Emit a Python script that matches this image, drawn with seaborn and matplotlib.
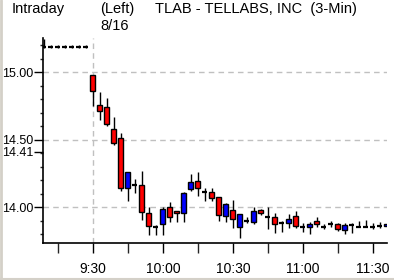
import matplotlib
matplotlib.use("Agg")
import matplotlib.pyplot as plt
import seaborn as sns
import numpy as np
import pandas as pd
from matplotlib.ticker import FixedLocator, MultipleLocator
from matplotlib.lines import Line2D

# ---------------- data ----------------
times = ["9:30", "9:33", "9:36", "9:39", "9:42", "9:45", "9:48", "9:51", "9:54", "9:57",
         "10:00", "10:03", "10:06", "10:09", "10:12", "10:15", "10:18", "10:21", "10:24", "10:27",
         "10:30", "10:33", "10:36", "10:39", "10:42", "10:45", "10:48", "10:51", "10:54", "10:57",
         "11:00", "11:03", "11:06", "11:09", "11:12", "11:15", "11:18", "11:21", "11:24", "11:27",
         "11:30", "11:33", "11:36"]
opens = [14.980, 14.758, 14.745, 14.578, 14.511, 14.145, 14.165, 14.165, 13.956, 13.852,
         13.874, 14.000, 13.973, 13.956, 14.133, 14.193, 14.111, 14.111, 14.074, 13.934,
         13.980, 13.852, 13.895, 13.889, 13.980, 13.928, 13.928, 13.881, 13.881, 13.934,
         13.852, 13.852, 13.896, 13.852, 13.877, 13.877, 13.832, 13.869, 13.857, 13.857,
         13.857, 13.864, 13.861]
highs = [14.980, 14.852, 14.812, 14.667, 14.553, 14.259, 14.210, 14.269, 14.000, 13.869,
         14.000, 14.037, 13.973, 14.116, 14.247, 14.259, 14.141, 14.141, 14.074, 14.034,
         14.054, 13.950, 13.928, 14.000, 13.985, 14.000, 13.956, 13.899, 13.950, 13.975,
         13.881, 13.889, 13.926, 13.877, 13.901, 13.881, 13.881, 13.881, 13.901, 13.907,
         13.881, 13.890, 13.877]
lows = [14.753, 14.647, 14.600, 14.460, 14.121, 14.047, 14.106, 13.906, 13.795, 13.795,
        13.795, 13.893, 13.893, 13.893, 14.123, 14.086, 14.049, 14.049, 13.899, 13.893,
        13.844, 13.770, 13.881, 13.874, 13.943, 13.839, 13.807, 13.819, 13.844, 13.844,
        13.819, 13.802, 13.852, 13.839, 13.852, 13.827, 13.802, 13.807, 13.852, 13.852,
        13.837, 13.844, 13.861]
closes = [14.862, 14.714, 14.615, 14.474, 14.141, 14.259, 14.165, 13.967, 13.862, 13.852,
          13.985, 13.926, 13.956, 14.104, 14.185, 14.141, 14.111, 14.067, 13.943, 14.024,
          13.911, 13.950, 13.895, 13.975, 13.956, 13.928, 13.874, 13.881, 13.915, 13.861,
          13.852, 13.874, 13.874, 13.852, 13.877, 13.839, 13.869, 13.869, 13.857, 13.857,
          13.857, 13.864, 13.877]

# previous session's last bars (shown before the open)
prev_opens = [15.190, 15.190, 15.190, 15.190, 15.190, 15.190, 15.190]
prev_highs = [15.245, 15.200, 15.200, 15.200, 15.200, 15.200, 15.200]
prev_lows = [15.180, 15.180, 15.180, 15.180, 15.180, 15.180, 15.180]
prev_closes = [15.190, 15.190, 15.190, 15.190, 15.190, 15.190, 15.190]

ytick_vals = [14.00, 14.41, 14.50, 15.00]
ytick_labels = ["14.00", "14.41", "14.50", "15.00"]
grid_prices = [14.00, 14.50, 15.00]
xtick_labels = ["9:30", "10:00", "10:30", "11:00", "11:30"]

title_left = "Intraday"
title_mid = "(Left)"
date_text = "8/16"
title_right = "TLAB - TELLABS, INC  (3-Min)"

# ---------------- helpers ----------------
def to_bar(t):
    h, m = t.split(":")
    return (int(h) * 60 + int(m) - (9 * 60 + 30)) / 3.0

df = pd.DataFrame({"time": times, "open": opens, "high": highs, "low": lows, "close": closes})
df["x"] = [to_bar(t) for t in df["time"]]
n_prev = len(prev_opens)
pdf = pd.DataFrame({"open": prev_opens, "high": prev_highs, "low": prev_lows, "close": prev_closes})
pdf["x"] = np.arange(-n_prev, 0, dtype=float)
all_df = pd.concat([pdf, df[["open", "high", "low", "close", "x"]]], ignore_index=True)

# ---------------- figure ----------------
sns.set_theme(style="ticks")
plt.rcParams["font.family"] = ["Liberation Sans", "DejaVu Sans"]

fig = plt.figure(figsize=(3.94, 2.80), dpi=100)
fig.patch.set_facecolor("white")
ax = fig.add_axes([43 / 394, 37 / 280, (387 - 43) / 394, (243 - 38) / 280])
ax.set_facecolor("white")

# grid
for gp in grid_prices:
    ax.axhline(gp, color="#c0c0c0", lw=1, ls=(0, (4, 3)), zorder=0)
ax.axvline(to_bar("9:30"), color="#c0c0c0", lw=1, ls=(0, (4, 3)), zorder=0)

w = 5 / 7
# wicks
ax.vlines(all_df["x"], all_df["low"], all_df["high"], color="black", lw=1, zorder=2)
for _, r in all_df.iterrows():
    o, c = r["open"], r["close"]
    if abs(o - c) < 0.004:
        ax.hlines(o, r["x"] - w / 2, r["x"] + w / 2, color="black", lw=1.6, zorder=3)
    else:
        col = "#ff0000" if c < o else "#0000ff"
        ax.bar(r["x"], abs(c - o), bottom=min(o, c), width=w, color=col,
               edgecolor="black", linewidth=1, zorder=3)

ax.set_xlim(-7.14, 42.0)
ax.set_ylim(13.735, 15.255)

# ticks
ax.xaxis.set_major_locator(FixedLocator([to_bar(t) for t in xtick_labels]))
ax.set_xticklabels(xtick_labels)
ax.xaxis.set_minor_locator(FixedLocator([to_bar(t) - 5 for t in xtick_labels]))
ax.yaxis.set_major_locator(FixedLocator(ytick_vals))
ax.set_yticklabels(ytick_labels)
ax.yaxis.set_minor_locator(MultipleLocator(0.1))

ax.tick_params(axis="x", which="major", direction="out", length=7.5, width=1, pad=6,
               labelsize=10, colors="black")
ax.tick_params(axis="x", which="minor", direction="out", length=7.5, width=1)
ax.tick_params(axis="y", which="major", direction="out", length=6.5, width=1, pad=0.5,
               labelsize=9, colors="black")
ax.tick_params(axis="y", which="minor", direction="out", length=2.5, width=1)

for side in ["top", "right"]:
    ax.spines[side].set_visible(False)
for side in ["left", "bottom"]:
    ax.spines[side].set_color("black")
    ax.spines[side].set_linewidth(1.2)

# titles
fig.text(12 / 394, 1 - 2 / 280, title_left, ha="left", va="top", fontsize=10.5, color="black")
fig.text(100 / 394, 1 - 2 / 280, title_mid, ha="left", va="top", fontsize=10.5, color="black")
fig.text(100 / 394, 1 - 19 / 280, date_text, ha="left", va="top", fontsize=10.5, color="black")
fig.text(155 / 394, 1 - 2 / 280, title_right, ha="left", va="top", fontsize=10.5, color="black")

# light window frame
fig.add_artist(Line2D([0.002, 0.002], [0, 1], transform=fig.transFigure, color="#d4d0c8", lw=2))
fig.add_artist(Line2D([0, 1], [0.003, 0.003], transform=fig.transFigure, color="#d4d0c8", lw=1.5))

fig.savefig("out.png", dpi=100, facecolor="white")
